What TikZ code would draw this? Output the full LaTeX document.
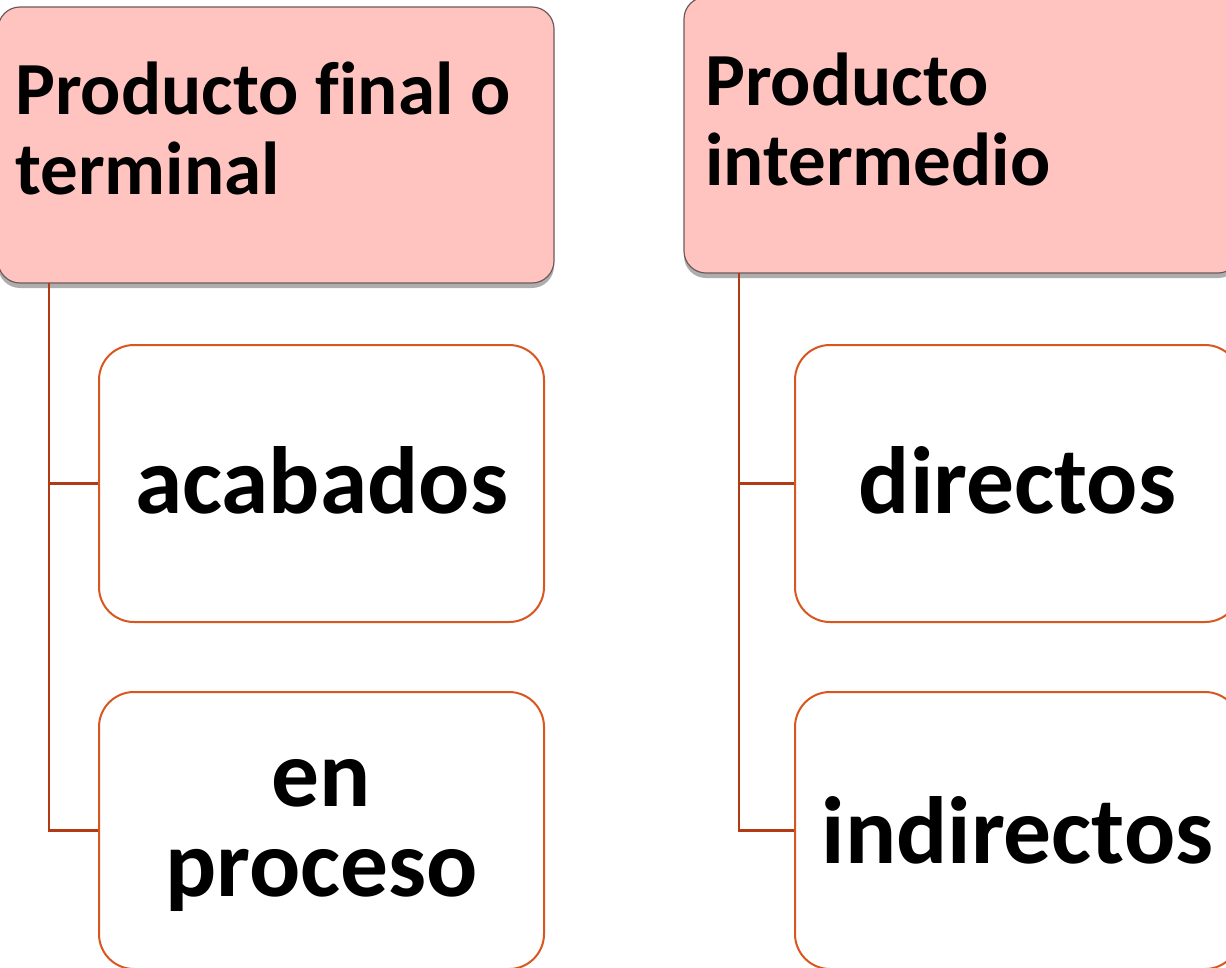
\documentclass[tikz,border=0pt]{standalone}
\usepackage{fontspec}
\setmainfont[Ligatures=NoCommon]{Carlito}
\usetikzlibrary{shadows}
\definecolor{hdrfill}{HTML}{FFC4C0}
\definecolor{hdrdraw}{HTML}{6E5A5A}
\definecolor{boxdraw}{HTML}{D9561F}
\definecolor{linkcol}{HTML}{B23A14}
\tikzset{
  hdrbox/.style={draw=hdrdraw, line width=1.2pt, fill=hdrfill, rounded corners=22pt,
    minimum width=556pt, minimum height=276pt, inner sep=0pt,
    drop shadow={shadow xshift=0pt, shadow yshift=-5pt, opacity=0.45, fill=black!70}},
  hdrtext/.style={font=\fontsize{75pt}{80pt}\selectfont\bfseries, align=left, inner sep=0pt, anchor=north west},
  childbox/.style={draw=boxdraw, line width=2pt, fill=white, rounded corners=35pt,
    minimum width=445pt, minimum height=277pt, inner sep=0pt},
  childtext/.style={font=\fontsize{95.5pt}{90pt}\selectfont\bfseries, align=center, inner sep=0pt},
  link/.style={draw=linkcol, line width=2.6pt}
}
\begin{document}
\begin{tikzpicture}[x=1pt,y=-1pt]
\useasboundingbox (0,0) rectangle (1226,967);
\clip (0,0) rectangle (1226,967);
\fill[white] (0,0) rectangle (1226,967);
% left column
\node[hdrbox] (h1) at (276,145) {};
\node[hdrtext] (h1t) at (15,62) {Producto final o\\terminal};
\node[childbox] (a1) at (321.5,483.5) {};
\node[childbox] (a2) at (321.5,830.5) {};
\node[childtext] (a1t) at (321.5,480) {acabados};
\node[childtext] (a2t) at (321.5,835) {en\\proceso};
\coordinate (l1) at (49,283);
\draw[link] (l1) |- (a1.west);
\draw[link] (l1) |- (a2.west);
% right column
\node[hdrbox] (h2) at (962,135) {};
\node[hdrtext] (h2t) at (705,53) {Producto\\intermedio};
\node[childbox] (b1) at (1017.5,483.5) {};
\node[childbox] (b2) at (1017.5,830.5) {};
\node[childtext] (b1t) at (1017.5,480) {directos};
\node[childtext] (b2t) at (1017.5,830.5) {indirectos};
\coordinate (l2) at (739,273);
\draw[link] (l2) |- (b1.west);
\draw[link] (l2) |- (b2.west);
\end{tikzpicture}
\end{document}
